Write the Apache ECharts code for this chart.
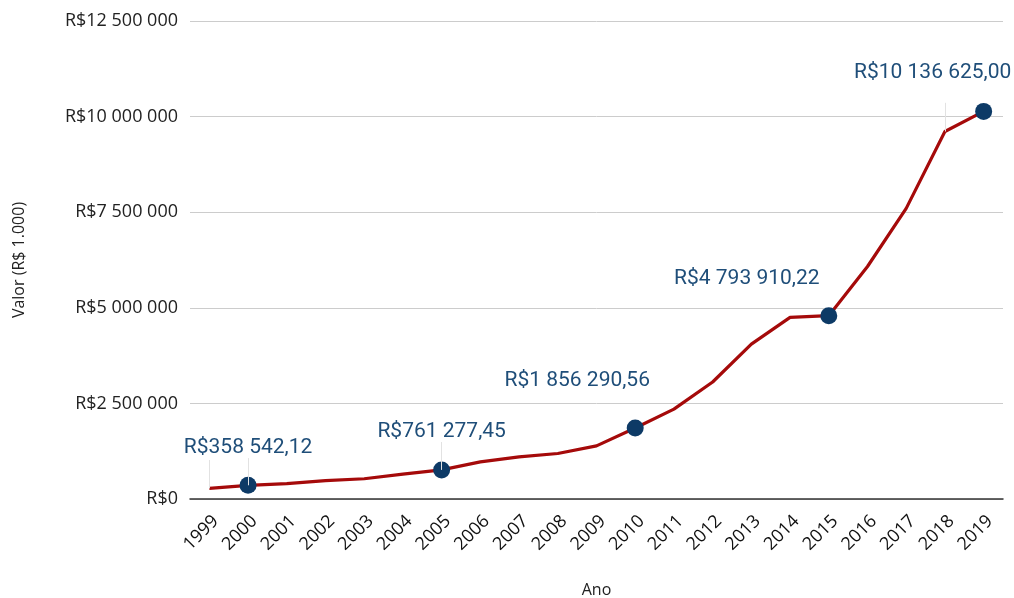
<!DOCTYPE html>
<html>
<head>
<meta charset="utf-8">
<script src="https://cdn.jsdelivr.net/npm/echarts@6/dist/echarts.min.js"></script>
<style>
  html, body { margin: 0; padding: 0; background: #fff; }
  #chart { width: 1014px; height: 598px; }
</style>
</head>
<body>
<div id="chart"></div>
<script>
  // dados
  const anos = ['1999', '2000', '2001', '2002', '2003', '2004', '2005', '2006', '2007', '2008',
    '2009', '2010', '2011', '2012', '2013', '2014', '2015', '2016', '2017', '2018', '2019']
  const valores = [280000, 358542.12, 400000, 480000, 530000, 650000, 761277.45, 970000, 1100000,
    1190000, 1390000, 1856290.56, 2350000, 3060000, 4050000, 4750000, 4793910.22, 6080000,
    7600000, 9610000, 10136625.0]
  const anosDestaque = ['2000', '2005', '2010', '2015', '2019']
  const yMin = 0
  const yMax = 12500000
  const yPasso = 2500000

  function agrupar(inteiro) {
    return String(inteiro).replace(/\B(?=(\d{3})+(?!\d))/g, ' ')
  }
  function moeda(v, casas) {
    const partes = v.toFixed(casas).split('.')
    return 'R$' + agrupar(partes[0]) + (partes[1] ? ',' + partes[1] : '')
  }

  // deslocamento dos rótulos de cada ponto destacado
  const deslocRotulo = { '2000': [0, -38], '2005': [0, -38], '2010': [-58, -47], '2015': [-82, -37], '2019': [-51, -39] }

  // linhas-guia finas dos rótulos (ano, até onde sobem)
  const guias = [['1999', 1020000], ['2000', 1070000], ['2005', 1490000], ['2018', 10360000]]

  const chart = echarts.init(document.getElementById('chart'))

  const option = {
    animation: false,
    grid: { left: 190, right: 11, top: 21, bottom: 99, outerBoundsMode: 'none' },
    xAxis: {
      type: 'category',
      data: anos,
      boundaryGap: true,
      name: 'Ano',
      nameLocation: 'middle',
      nameGap: 83,
      nameTextStyle: { fontFamily: 'Open Sans', fontSize: 16, color: '#222' },
      axisLine: { lineStyle: { color: '#333', width: 1.5 } },
      axisTick: { show: false },
      axisLabel: {
        rotate: 45,
        interval: 0,
        margin: 13,
        verticalAlign: 'top',
        fontFamily: 'Open Sans',
        fontSize: 18,
        color: '#111',
      },
    },
    yAxis: {
      type: 'value',
      min: yMin,
      max: yMax,
      interval: yPasso,
      name: 'Valor (R$ 1.000)',
      nameLocation: 'middle',
      nameGap: 163,
      nameTextStyle: { fontFamily: 'Open Sans', fontSize: 16, color: '#222' },
      axisLine: { show: false },
      axisTick: { show: false },
      axisLabel: {
        margin: 12,
        fontFamily: 'Open Sans',
        fontSize: 18,
        color: '#222',
        formatter: (v) => 'R$' + agrupar(v),
      },
      splitLine: { lineStyle: { color: '#cccccc', width: 1 } },
    },
    series: [
      {
        type: 'line',
        data: valores,
        showSymbol: false,
        lineStyle: { color: '#a50a0a', width: 3.2 },
        z: 2,
        markLine: {
          silent: true,
          symbol: 'none',
          label: { show: false },
          lineStyle: { color: '#e2e2e2', width: 1, type: 'solid' },
          data: guias.map(([a, topo]) => [
            { coord: [a, valores[anos.indexOf(a)]] },
            { coord: [a, topo] },
          ]),
        },
      },
      {
        type: 'scatter',
        symbolSize: 17,
        itemStyle: { color: '#0d3a66', opacity: 1 },
        z: 3,
        data: anosDestaque.map((a) => {
          const v = valores[anos.indexOf(a)]
          return {
            value: [a, v],
            label: {
              show: true,
              position: 'inside',
              offset: deslocRotulo[a],
              formatter: moeda(v, 2),
              fontFamily: 'Roboto',
              fontSize: 21,
              color: '#1f4e79',
            },
          }
        }),
      },
    ],
  }

  chart.setOption(option)
</script>
</body>
</html>
